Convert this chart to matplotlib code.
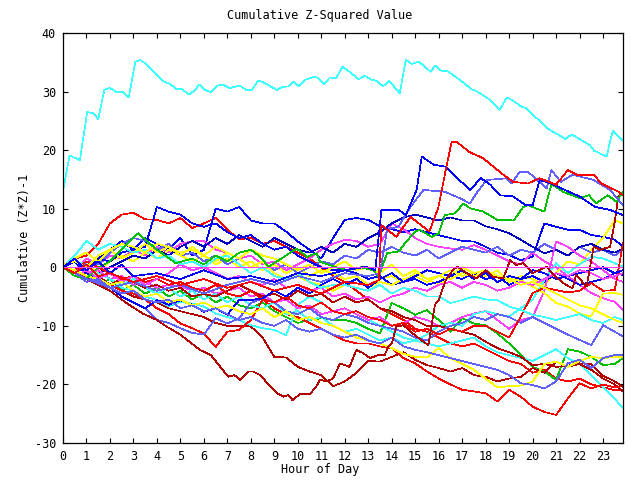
import numpy as np
import matplotlib
matplotlib.use("Agg")
import matplotlib.pyplot as plt

# colours of the gnuplot png terminal
RED = '#ff0000'
GREEN = '#00c000'
BLUE = '#0000ff'
NAVY = '#0000c0'
MAGENTA = '#ff40ff'
CYAN = '#40ffff'
DARKRED = '#b00000'
YELLOW = '#ffff00'
LIGHTBLUE = '#6060ff'

# half-hour sampling shared by most sensors
hours = list(np.arange(0, 23.6, 0.5)) + [23.85]

# sensors read with their own time stamps
cyan_top_h = [0, 0.28, 0.72, 1.03, 1.3, 1.5, 1.76, 1.99, 2.29, 2.55,
              2.8, 3.08, 3.29, 3.51, 4.3, 4.56, 4.83, 5.08, 5.35, 5.55,
              5.82, 6.04, 6.3, 6.56, 6.8, 7.09, 7.53, 7.79, 8.05, 8.31,
              8.57, 9.1, 9.36, 9.62, 9.8, 10.06, 10.32, 10.67, 10.85, 11.1,
              11.37, 11.63, 11.9, 12.16, 12.6, 12.85, 13.1, 13.37, 13.63, 13.9,
              14.34, 14.6, 14.86, 15.12, 15.38, 15.64, 15.86, 16.13, 16.34, 16.87,
              17.4, 17.65, 18.18, 18.6, 18.9, 19.1, 19.5, 19.75, 20.6, 21.4,
              21.67, 22.45, 22.62, 23.15, 23.41, 23.85]
cyan_top_v = [13, 19.1, 18.3, 26.5, 26.3, 25.3, 30.3, 30.6, 29.9, 29.9,
              29.0, 35.1, 35.4, 34.8, 31.7, 31.3, 30.4, 30.4, 29.5, 30.0,
              31.2, 30.3, 29.9, 31.0, 31.2, 30.6, 31.0, 30.3, 30.3, 31.9,
              31.5, 30.3, 30.8, 30.9, 31.7, 30.9, 32.0, 32.5, 32.4, 31.3,
              32.4, 32.3, 34.2, 33.5, 32.1, 32.7, 32.1, 31.8, 30.9, 31.8,
              29.7, 35.4, 34.7, 35.1, 34.4, 33.4, 34.4, 33.5, 33.6, 32.1,
              30.4, 30.0, 28.6, 26.9, 29.0, 28.6, 27.5, 27.1, 23.8, 21.9,
              22.7, 20.8, 19.9, 18.9, 23.3, 21.6]

red_jump_h = [0, 0.5, 1, 1.5, 2, 3, 4, 5, 6, 7, 8, 9, 10, 11, 12, 13, 13.45, 13.56,
              14.2, 14.8, 15.6, 15.98, 16.3, 16.55, 16.77, 17.3, 17.9, 18.75, 19.17,
              19.8, 20.3, 21.0, 21.5, 21.9, 22.6, 22.94, 23.65, 23.85]
red_jump_v = [0, -1, 0.5, -1.5, -1, -2.5, -1.5, -3, -2, -3.5, -2.5, -4, -3, -4.5, -2.5, -3, -2.2, 7.2,
              5.2, 8.6, 6.1, 10.1, 16.6, 21.4, 21.4, 19.7, 18.6, 15.8, 14.6,
              14.3, 15.2, 14.1, 16.6, 15.8, 15.8, 14.3, 12.9, 12.3]

blue_jump_h = [0, 0.5, 1, 1.5, 2, 2.5, 3, 4, 5, 6, 7, 8, 9, 10, 11, 12, 12.9, 13.3, 13.56, 14.3,
               14.6, 15.06, 15.28, 15.5, 15.8, 16.27, 17.33, 17.8, 18.2, 18.6,
               19.17, 19.7, 20.0, 20.3, 20.8, 21.2, 22, 22.66, 23.3, 23.85]
blue_jump_v = [0, 1.5, -0.5, 1, -1, 0.5, -1.5, -1, -2, -0.5, -2, -1.5, -2.5, -1, -1.5, -0.5, 0.1, -0.5, 9.8, 9.8,
               8.9, 13.2, 18.9, 18.3, 17.5, 17.2, 13.2, 15.2, 14.1, 12.3,
               12.1, 10.6, 10.6, 14.9, 14.3, 13.5, 12.1, 10.3, 9.8, 8.9]

lb_jump_h = [0, 0.5, 1, 2, 3, 4, 5, 6, 7, 8, 9, 10, 11, 12, 13, 13.5, 13.8, 14.3, 14.8, 15.35,
             16.26, 16.9, 17.33, 17.6, 18.04, 18.9, 19.1, 19.45, 19.8, 20.6,
             20.8, 21.2, 21.7, 22.6, 23.3, 23.85]
lb_jump_v = [0, -1, -2, -3.5, -2.5, -4, -3, -4.5, -3, -2, -3, -1.5, -2.5, -1, -1.5, -1, 6.4, 7, 10.3, 13.2,
             12.9, 11.8, 10.9, 12.6, 14.9, 15.2, 14.3, 16.3, 16.3, 13.5,
             16.6, 14.6, 15.8, 14.9, 13.2, 10.6]

green_jump_h = [0, 0.5, 1, 1.5, 2, 2.5, 3.2, 4, 4.8, 5.5, 6, 6.5, 7, 7.5, 8, 8.4, 8.75, 9.3, 9.95, 10.4,
                10.8, 10.95, 11.65, 12.15, 12.7, 13.2, 13.45, 13.8, 14.3, 14.56,
                15, 15.2, 15.7, 16, 16.26, 16.7, 17.05, 17.33, 17.9, 18.5,
                19.2, 19.6, 19.8, 20.5, 20.8, 21.3, 22, 22.4, 22.7, 23.2, 23.57, 23.85]
green_jump_v = [0, -1.5, -2, 0, 1, 3, 5.8, 3, 0.7, 1.5, 0.5, 2, 1, 2.5, 3, 1.8, 0.1, 1.5, 3.2, 1.8,
                2.4, 0.9, 0, -0.5, 0, -0.5, -1.6, 2.4, 2.7, 4.1,
                6.1, 6.4, 5.2, 5.8, 8.9, 9.2, 10.9, 10.1, 9.5, 8.1,
                8.0, 10.3, 10.6, 9.5, 14.2, 12.9, 11.8, 12.3, 10.9, 12.3, 11.2, 12.9]

darkred_rise_h = [0, 0.5, 1, 2, 2.7, 3.4, 4, 4.4, 5, 5.83, 6.3, 7.04, 7.3, 7.54, 7.9, 8.1, 8.39,
                  9.1, 9.4, 9.6, 9.78, 10.1, 10.5, 10.78, 10.95, 11.2, 11.5, 11.8, 12.2, 12.5,
                  12.8, 13.07, 13.43, 13.7, 13.85, 14.0, 14.2, 14.5, 14.9, 15.35,
                  15.56, 15.84, 16.0, 16.15, 16.3, 16.6, 16.8, 17.2, 17.6, 18,
                  18.3, 18.75, 19.04, 19.3, 19.6, 20, 20.6, 20.9, 21.3, 21.7,
                  21.85, 22.3, 22.6, 22.87, 23.3, 23.5, 23.65, 23.85]
darkred_rise_v = [0, -1, -2, -4, -6.1, -7.9, -9, -10.1, -11.5, -14.1, -15, -18.7, -18.4, -19.2, -17.8, -17.8, -18.4,
                  -21.5, -22.1, -21.8, -22.7, -21.6, -21.7, -20.4, -19.2, -19.5, -19, -16.4, -17, -14.1,
                  -14.7, -15.5, -15, -15, -13.6, -13, -10.1, -9.9, -11.3, -12.7,
                  -13.3, -6.4, -5.6, -3.9, -2.2, -0.5, 0.1, -1, -1.9, -0.5,
                  -1.6, -1.9, 1.2, 0.4, 0.7, -1, 0.1, -1.3, -2.7, -3.6,
                  -1.3, -3.3, 3.5, 3, 3.5, 7.8, 12.1, 12.9]

# sensors on the half-hour grid
flat_zero = [0.0] * len(hours)

red_a = [0, 1.5, 2, 4, 7.5, 9, 9.3, 8.2, 8.1, 7.5, 8.4, 6.7,
         7.5, 8.4, 6.4, 4.8, 5, 4, 4.5, 3.5, 2.5, 1.5, 0, -1.5,
         -2.5, -4, -5.5, -7, -8, -9, -10.5, -11, -12, -13, -13.5, -13,
         -14, -15, -16, -16.5, -18, -17.5, -19, -19.5, -19, -20, -20.5, -21, -21]
red_b = [0, -1, -1.5, -2, -3, -4, -4.5, -5.5, -7, -8, -9.6, -10.4,
         -11.3, -13.6, -11, -10.7, -9, -5.5, -7, -8, -8.5, -9.5, -10.5, -11.5,
         -12.5, -13, -13, -13.5, -13.8, -15.5, -16.4, -17.8, -19, -20, -20.9, -21.2,
         -21.5, -22.9, -20.9, -22.1, -23.8, -24.7, -25.2, -22.4, -19.8, -20.7, -20, -20.5, -20.3]
red_c = [0, -0.5, 1, 0, -1, -2, -1.5, -2.5, -2, -3, -2.5, -3.5,
         -4, -3, -4.5, -5, -4, -5.5, -6, -5, -6.5, -7, -6, -7.5,
         -8, -7.5, -8.5, -9, -10, -9.5, -11, -10.5, -11.5, -10.5, -11, -10,
         -10, -11, -12, -8.4, -4.4, -3.5, -3.9, -4.3, -4, -2.7, -4, -3.9, 4.1]

blue_a = [0.5, -1, 0, 1.5, 3, 4.5, 3, 5, 4, 3, 5, 2,
          3, 10, 9.5, 10.3, 8, 7.5, 7.5, 6.1, 4.4, 3, 1.5, 5,
          8.1, 8.4, 8.1, 7, 6.5, 6, 6.5, 6, 5.5, 5, 4.5, 4.4,
          3.5, 2.5, 2.1, 1.2, 1.8, 7.5, 6.9, 6.4, 6.4, 5.5, 5.2, 4.7, 3.5]
blue_b = [0, 1, -0.5, 1.5, 1, 2.5, 3, 3.5, 10.3, 9.5, 9, 7.5,
          6.9, 7.5, 6, 5, 5.5, 4, 3, 3.5, 2, 1, 0, -0.5,
          -0.5, -1, -2, -1.5, -3, -2.5, -2, -3, -2.5, -1.5, -2, -1,
          -2, -1.5, -3, -2, -1.5, -2.5, -1, -2, -3, -2.5, -2, -1, -1.3]
navy_a = [0, -1, -2, -1, 0, 1, 2, 1.5, 3, 2, 3.5, 4.5,
          3.5, 5, 4, 5.5, 4.5, 3.5, 5, 4, 3, 2.5, 3.5, 2.5,
          4, 3.5, 5, 6, 7.5, 8.5, 9, 8.5, 8, 8.5, 8, 8,
          7, 6.5, 5.8, 4.7, 3.5, 2.4, 3, 2, 3.5, 4, 3, 2.5, 3.2]
blue_d = [0, 1, -1, -2, -3.5, -5, -6, -7, -5.6, -6.4, -5.6, -6.4,
          -7.6, -7, -8.1, -5.6, -5.6, -5.3, -4, -5, -3.5, -4.5, -3, -2,
          -3, -2, -3.5, -2, -1, -2.5, -1.5, -0.5, -1, -1.5, -0.5, -2,
          -1, -2.5, -1.5, -2, -0.5, -1, -2, -1.5, -1, -0.5, 0, -1, -0.5]

lightblue_b = [0, -1, 1, 0.5, 2.5, 4, 5, 4.5, 3, 4, 2, 2.5,
               1, 2, 0.5, 1.5, 0, 1, -0.5, 0.5, -1, 0, 1, 0.5,
               2, 1.5, 3, 2.5, 3.5, 2.5, 2, 3, 1.5, 2.5, 3.5, 3,
               2.5, 3.5, 2, 3, 2.5, 4, 3, 2, 3.5, 2.5, 3, 2, 3]
lightblue_c = [0, -0.5, -1.5, -2.5, -3.5, -5, -6, -7, -9, -9.5, -10.4, -11.2,
               -11.5, -8.7, -9.6, -8.7, -6.1, -5.3, -6, -7.5, -8, -7, -8.5, -9,
               -8, -8.5, -9.5, -10, -10.5, -11, -12, -12.5, -11, -10, -9.5, -8.5,
               -9, -8, -8.5, -9.5, -8.5, -9.5, -10.5, -11.5, -12.4, -13.3, -9.9, -11, -11.8]
lightblue_d = [0, -1, -2.5, -2, -3.5, -4.5, -4, -5.5, -6, -5.5, -7, -6.5,
               -7.5, -7, -8, -9, -8.5, -9.5, -10, -9, -10.5, -11, -10.5, -11.5,
               -12, -11.5, -12.5, -13, -12, -13.5, -14.1, -14.5, -15, -15.5, -16, -16.5,
               -17, -17.5, -18.4, -19.8, -20.1, -20.7, -19.5, -16.4, -15.8, -17.2, -15.5, -15, -15]

cyan_a = [0, 1, 0.5, -1, -2, -3.5, -4, -5, -5.6, -6.7, -5.9, -6.2,
          -6.7, -7.9, -8.5, -9, -9.9, -10.4, -10.7, -11.6, -6.4, -5, -6, -7.5,
          -7, -8, -9, -10, -11, -12, -12.5, -13, -13.5, -13, -12.5, -12,
          -13.5, -14.5, -15, -15.5, -16, -15, -14, -15.5, -16.5, -18.5, -20.5, -22.5, -24]
cyan_b = [0, -1, -2, -1, -2, -3, -2, -3.5, -4.5, -3.5, -5, -4,
          -5.5, -4.5, -6, -5, -6.5, -7, -6, -8, -7.5, -9, -8.5, -10,
          -11, -10.5, -11.5, -12.5, -12, -13, -12.5, -11.5, -10, -9.5, -10, -8,
          -7.5, -8, -8.4, -7, -5.5, -2.2, 0.7, -1, 0.5, 1.8, 1.5, 0.7, 0.1]
cyan_c = [0, 2, 4.5, 3, 4, 3.5, 2.5, 3, 1.5, 2, 0.5, 1,
          0, 1.5, 2, 0.5, -1, 0, -1.5, -2, -1, -2.5, -3.5, -3,
          -3, -3.5, -4, -3, -4.5, -3.5, -4, -5, -5, -6.1, -5.6, -5,
          -5.5, -5.6, -6.7, -7.3, -8.1, -8.5, -9, -8.5, -8, -9, -9.5, -8.5, -9]

green_b = [0, -1, -1.5, -3, -2, -4, -3, -4.5, -3.5, -5, -4, -5.5,
           -4.5, -6, -5, -6.5, -7, -6, -7.5, -8.5, -9.5, -9, -8.7, -9,
           -9, -9.5, -10.5, -11.3, -6.1, -7, -8.1, -7.3, -9, -11, -8.7, -9.6,
           -9.9, -11.3, -13, -15, -17, -17.8, -19.2, -14, -14.4, -15.3, -16.7, -16.5, -15.5]

magenta_a = [0, -0.5, 1.5, 0.5, 2, 1.5, 3, 2, 3.5, 2.5, 4, 4.4,
             4.5, 3, 2.5, 1.5, 2, 0.5, 1, -0.5, 0.5, 1.5, 3, 4,
             4.7, 4.5, 3.5, 4, 7.5, 6.5, 5, 4, 3.5, 3.2, 3, 3.8,
             3, 2, 1, 0.5, 2.5, 1, 0, -1.5, -3, -4.4, -5.3, -5.9, -7.3]
magenta_b = [0, 1, -1, -0.5, -2, -1.5, -3, -2.5, -3.5, -3, -3.3, -4,
             -3.5, -4.5, -4, -3.5, -5, -4.5, -6, -5.5, -7, -6.5, -8, -7.5,
             -7, -8, -9, -8.5, -10, -9.5, -8.5, -9, -10, -9.5, -8.5, -7.9,
             -7.5, -9, -10.5, -9, -8.5, -4, 4.4, 3.5, 2, 1, -0.5, -2, -2.5]
magenta_c = [0, -1.5, -0.5, -2, -1, -2.5, -1.5, -3, -2, -1, 0.5, -0.5,
             0, -1, -2, -1.5, -2.5, -3, -2, -3.5, -3, -4, -3.5, -5,
             -4.5, -5.5, -5, -6, -5, -4.5, -3.5, -4, -3, -2.5, -3.5, -2.5,
             -3, -4, -3.5, -2.5, -3, -2, -1, -1.5, -0.5, -1, -2, -1.5, -1]

yellow_a = [0.5, -1, 0.5, -1, 1, 2, 1, 2.5, 1.5, 3, 2, 1,
            2, 0.5, 1.5, 0, 1, -0.5, 0.5, -1, 0, -1.5, -0.5, -1,
            -2, -1.5, -3, -2, -1.5, -2.5, -1, -2, -3, -1.5, 0, -1,
            -1.5, -0.5, -2.5, -1.5, -2, -3, -1, 1, 0.5, 3, 5, 8, 7.5]
yellow_b = [0, 1.5, 2.5, 1, 3, 1.5, 2.5, 4, 2.5, 3.5, 2, 3.5,
            2, 1, 2.5, 1.5, 0, 1, -1, -2, -1.5, -2.5, -3, -4,
            -3, -2, -3.5, -2.5, -3, -2, -1.5, -2.5, -1.5, -2, -1, -1.5,
            -1, -1.5, -2, -2.2, -3.3, -4.4, -6.1, -6.7, -7.9, -8.4, -4.5, -4.4, -4.7]
yellow_c = [0, -0.5, -1.5, -2, -3, -2.5, -4, -5, -4.5, -6, -5.5, -6.5,
            -6, -7, -6.5, -7.5, -8, -7, -8.5, -7.5, -9, -8.5, -9.5, -10,
            -11, -12, -12.5, -13, -13.8, -14.8, -15.3, -15.4, -13.8, -15.5, -16.5, -17.5,
            -19, -20.5, -20.3, -20.2, -19.5, -16.5, -16.1, -17, -16, -15.3, -15.5, -15.3, -15.3]
yellow_d = [0.5, 1, 0, 2, 3, 4, 3.5, 2.5, 4, 3.5, 2.5, 3,
            2, 3.5, 2.5, 1.5, 3, 2, 1.5, 0.5, -0.5, 0.5, -1, 0,
            1, -0.5, 0, -1, 0.5, -1.5, -0.5, -2, -1.5, -0.5, -1.5, -1,
            -0.5, -1.5, -2, -3, -2.5, -3.5, -4.5, -5.5, -6.5, -7, -8, -9, -9.5]

darkred_b = [0, -1.5, -1, -2.5, -3, -4, -5, -5.5, -6, -7, -7.5, -8,
             -8.5, -9.5, -10, -10, -10.1, -12, -15.3, -15.4, -17, -17.8, -18.4, -20.3,
             -19.5, -18, -16, -16.1, -15.3, -14.5, -15.8, -16.7, -17.2, -17.8, -17.2, -18.4,
             -18.7, -19.5, -19, -18.7, -17.2, -18, -16.1, -17, -16.5, -17.5, -19, -20, -21.2]
darkred_c = [0, -1, -2, -1.5, -3, -2, -2.5, -3.5, -3, -4, -3.5, -5,
             -4.5, -5, -4, -3, -4, -5, -4.5, -5.5, -4, -5, -4.5, -6,
             -5, -6, -5.5, -7, -7.5, -8.5, -9, -10, -10, -10.5, -11, -11.5,
             -12.7, -13.8, -14.5, -15.3, -16.7, -16.5, -17, -16.8, -16.4, -16.5, -18.5, -19.5, -20.4]

fig = plt.figure(figsize=(6.4, 4.8), dpi=100)
ax = fig.add_axes([63 / 640, 37 / 480, 560 / 640, 410 / 480])

lw = 0.5
def line(x, y, c):
    ax.plot(x, y, color=c, lw=lw, antialiased=False)

line(hours, red_a, RED)
line(hours, green_b, GREEN)
line(hours, blue_a, BLUE)
line(hours, magenta_a, MAGENTA)
line(hours, cyan_a, CYAN)
line(hours, darkred_b, DARKRED)
line(hours, yellow_a, YELLOW)
line(hours, lightblue_b, LIGHTBLUE)
line(hours, red_b, RED)
line(hours, navy_a, NAVY)
line(hours, blue_b, BLUE)
line(hours, magenta_b, MAGENTA)
line(hours, cyan_b, CYAN)
line(hours, darkred_c, DARKRED)
line(hours, yellow_b, YELLOW)
line(hours, lightblue_c, LIGHTBLUE)
line(hours, red_c, RED)
line(hours, blue_d, BLUE)
line(hours, magenta_c, MAGENTA)
line(hours, cyan_c, CYAN)
line(hours, yellow_c, YELLOW)
line(hours, lightblue_d, LIGHTBLUE)
line(hours, yellow_d, YELLOW)
line(darkred_rise_h, darkred_rise_v, DARKRED)
line(green_jump_h, green_jump_v, GREEN)
line(lb_jump_h, lb_jump_v, LIGHTBLUE)
line(blue_jump_h, blue_jump_v, BLUE)
line(red_jump_h, red_jump_v, RED)
line(hours, flat_zero, MAGENTA)
line(cyan_top_h, cyan_top_v, CYAN)

ax.set_xlim(0, 23.85)
ax.set_ylim(-30, 40)
ax.set_xticks(range(0, 24))
ax.set_yticks(range(-30, 41, 10))

font = {'family': 'DejaVu Sans Mono', 'size': 8.5}
ax.set_xticklabels([str(h) for h in range(0, 24)], fontdict=font)
ax.set_yticklabels([str(v) for v in range(-30, 41, 10)], fontdict=font)
ax.tick_params(direction='in', length=3.8, width=0.8, top=True, right=True,
               colors='black', pad=5)
for s in ax.spines.values():
    s.set_linewidth(0.9)
    s.set_color('black')

fig.text(0.5, 1 - 15 / 480, 'Cumulative Z-Squared Value', ha='center', va='center', **font)
fig.text(0.5, 1 - 470 / 480, 'Hour of Day', ha='center', va='center', **font)
fig.text(25 / 640, 1 - 238 / 480, 'Cumulative (Z*Z)-1', ha='center', va='center',
         rotation=90, **font)

fig.savefig('out.png', dpi=100)
